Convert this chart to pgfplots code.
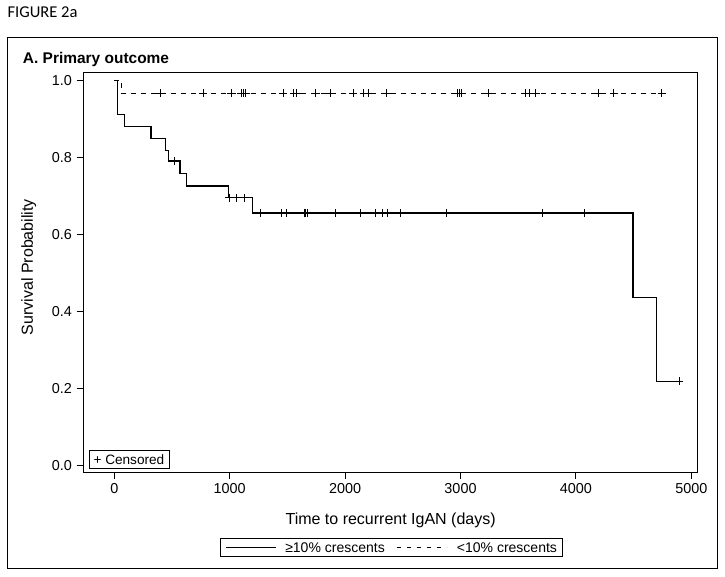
\documentclass[border=0pt]{standalone}
\usepackage{pgfplots}
\pgfplotsset{compat=1.18}
\usepackage{fontspec}
\setmainfont{Liberation Sans}
\newfontfamily\calibri{Carlito}
\begin{document}
\begin{tikzpicture}
\begin{scope}[x=0.75pt,y=-0.75pt]
\path (0,0) rectangle (725,576);
\node[anchor=base west, inner sep=0pt] at (7.3,17.3) {\calibri\fontsize{12.4}{14}\selectfont FIGURE 2a};
\draw[line width=0.75pt] (7.5,37.5) rectangle (717,568.5);
\node[anchor=base west, inner sep=0pt] at (22.7,63.3) {\fontsize{11.6}{14}\selectfont\bfseries A. Primary outcome};
% bottom legend
\draw[line width=0.75pt] (220,538.3) rectangle (562.7,556);
\draw[line width=0.9pt] (226,547.2) -- (276,547.2);
\node[anchor=base west, inner sep=0pt] at (285,552) {\fontsize{10.5}{12}\selectfont ≥10\% crescents};
\draw[line width=0.9pt, dash pattern=on 3.5pt off 4pt] (396.7,547.2) -- (446.7,547.2);
\node[anchor=base west, inner sep=0pt] at (456.7,552) {\fontsize{10.5}{12}\selectfont <10\% crescents};
% censored inset legend
\draw[line width=0.75pt, fill=white] (89,450) rectangle (169.3,468.3);
\node[anchor=base west, inner sep=0pt] at (93.3,464) {\fontsize{10.2}{12}\selectfont + Censored};
\end{scope}
\begin{axis}[
  at={(62.475pt,-354.225pt)}, anchor=south west,
  scale only axis, width=461pt, height=300pt,
  xmin=-269, xmax=5058, ymin=-0.0174, ymax=1.021,
  xtick={0,1000,2000,3000,4000,5000},
  ytick={0,0.2,0.4,0.6,0.8,1},
  /pgf/number format/assume math mode=true,
  xticklabel style={/pgf/number format/1000 sep={}},
  yticklabel style={/pgf/number format/.cd, fixed, fixed zerofill, precision=1},
  tick align=outside, tick pos=left,
  major tick length=5pt,
  axis line style={line width=0.75pt},
  every tick/.style={black, line width=0.75pt},
  ticklabel style={font=\fontsize{10.8}{12}\selectfont},
  xlabel={Time to recurrent IgAN (days)},
  ylabel={Survival Probability},
  every axis x label/.style={at={(rel axis cs:0.5,-0.13)}, anchor=base, font=\fontsize{12}{14}\selectfont},
  every axis y label/.style={at={(rel axis cs:-0.0888,0.513)}, anchor=center, rotate=90, font=\fontsize{12}{14}\selectfont},
  clip=false,
]
% >=10% crescents
\addplot[const plot, black, line width=0.9pt] coordinates {
 (0,1.0) (29,0.912) (87,0.880) (318,0.850) (440,0.819) (468,0.791) (569,0.759)
 (627,0.726) (988,0.695) (1199,0.656) (4495,0.437) (4700,0.219) (4896,0.219)};
\addplot[only marks, mark=+, mark size=3pt, black, mark options={line width=0.75pt}] coordinates {
 (520,0.791) (997,0.695) (1061,0.695) (1124,0.695)
 (1263,0.656) (1451,0.656) (1488,0.656) (1647,0.656) (1661,0.656) (1676,0.656)
 (1913,0.656) (2129,0.656) (2259,0.656) (2326,0.656) (2366,0.656) (2482,0.656)
 (2880,0.656) (3712,0.656) (4073,0.656) (4896,0.219)};
% <10% crescents
\addplot[const plot, black, line width=0.9pt, dash pattern=on 3.5pt off 4pt] coordinates {
 (0,1.0) (62,0.966) (4744,0.966)};
\addplot[only marks, mark=+, mark size=3pt, black, mark options={line width=0.75pt}] coordinates {
 (396,0.966) (770,0.966) (1012,0.966) (1101,0.966) (1121,0.966) (1141,0.966)
 (1465,0.966) (1555,0.966) (1581,0.966) (1747,0.966) (1873,0.966) (2071,0.966)
 (2161,0.966) (2204,0.966) (2359,0.966) (2972,0.966) (2989,0.966) (3005,0.966)
 (3244,0.966) (3562,0.966) (3601,0.966) (3651,0.966) (4197,0.966) (4329,0.966)
 (4744,0.966)};
\end{axis}
\end{tikzpicture}
\end{document}
